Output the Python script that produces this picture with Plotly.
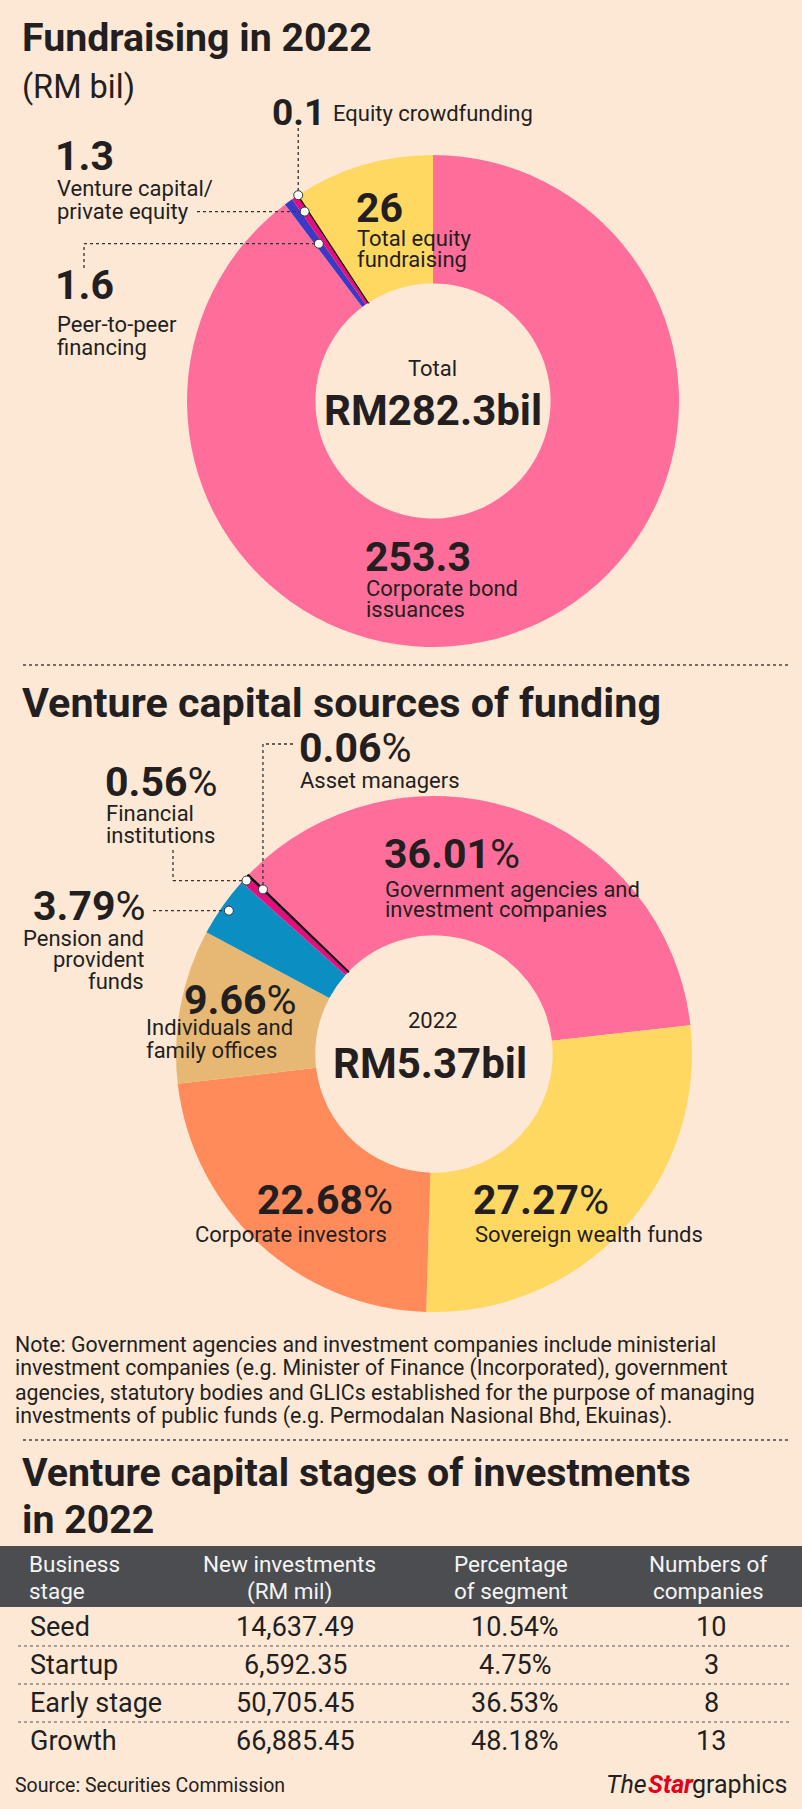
import math
import plotly.graph_objects as go

# ---------------- data ----------------
fund_labels = ["Corporate bond issuances", "Peer-to-peer financing",
               "Venture capital/private equity", "Equity crowdfunding",
               "Total equity fundraising"]
fund_values = [253.3, 1.6, 1.3, 0.1, 26]
fund_total_label = "RM282.3bil"

vc_labels = ["Government agencies and investment companies", "Sovereign wealth funds",
             "Corporate investors", "Individuals and family offices",
             "Pension and provident funds", "Financial institutions", "Asset managers"]
vc_values = [36.01, 27.27, 22.68, 9.66, 3.79, 0.56, 0.06]
vc_total_label = "RM5.37bil"
vc_year = "2022"

stage_names = ["Seed", "Startup", "Early stage", "Growth"]
stage_new_inv = [14637.49, 6592.35, 50705.45, 66885.45]
stage_pct = [10.54, 4.75, 36.53, 48.18]
stage_companies = [10, 3, 8, 13]
table_headers = ["Business<br>stage", "New investments<br>(RM mil)",
                 "Percentage<br>of segment", "Numbers of<br>companies"]

note_lines = [
    "Note: Government agencies and investment companies include ministerial",
    "investment companies (e.g. Minister of Finance (Incorporated), government",
    "agencies, statutory bodies and GLICs established for the purpose of managing",
    "investments of public funds (e.g. Permodalan Nasional Bhd, Ekuinas).",
]

# ---------------- style ----------------
W, H = 802, 1809
BG = "#FDE8D6"
INK = "#231F20"
PINK = "#FF6E9B"
YELLOW = "#FFD862"
BLUE1 = "#3A3AC4"
MAGENTA = "#E2107F"
BLUE2 = "#0B8EC1"
TAN = "#E6B874"
ORANGE = "#FF8B5B"
HEADER = "#4C4D51"
FONT = "Roboto"

fund_colors = [PINK, BLUE1, MAGENTA, "#111111", YELLOW]
vc_colors = [PINK, YELLOW, ORANGE, TAN, BLUE2, MAGENTA, "#111111"]


def fx(x):
    return x / W


def fy(y):
    return 1 - y / H


fig = go.Figure()

# donut geometry (pixels)
C1 = (433, 401, 246)
C2 = (434, 1054, 258)
ROT2 = -46


def add_donut(vals, cols, geom, hole, rot):
    cx, cy, R = geom
    widths = [1.6 if c == "#111111" else 0 for c in cols]
    fig.add_trace(go.Pie(
        values=vals, marker=dict(colors=cols, line=dict(color="#111111", width=widths)),
        hole=hole, sort=False, direction="clockwise", rotation=rot,
        textinfo="none", hoverinfo="skip", showlegend=False,
        domain=dict(x=[fx(cx - R), fx(cx + R)], y=[fy(cy + R), fy(cy - R)]),
    ))


add_donut(fund_values, fund_colors, C1, 0.478, 0)
add_donut(vc_values, vc_colors, C2, 0.46, ROT2)


def slice_point(vals, idx, geom, rot, rfrac):
    cx, cy, R = geom
    tot = sum(vals)
    mid = sum(vals[:idx]) + vals[idx] / 2
    th = math.radians(rot + 360 * mid / tot)
    return cx + R * rfrac * math.sin(th), cy - R * rfrac * math.cos(th)


def text(x, y, s, size, anchor="left", color=INK):
    fig.add_annotation(x=fx(x), y=fy(y), xref="paper", yref="paper", text=s,
                       showarrow=False, xanchor=anchor, yanchor="middle",
                       borderpad=0, font=dict(family=FONT, size=size, color=color))


def lines(x, y0, rows, size, step, anchor="left", color=INK):
    for i, r in enumerate(rows):
        text(x, y0 + i * step, r, size, anchor, color)


def dotted(pts):
    for (x0, y0), (x1, y1) in zip(pts[:-1], pts[1:]):
        fig.add_shape(type="line", xref="paper", yref="paper",
                      x0=fx(x0), y0=fy(y0), x1=fx(x1), y1=fy(y1),
                      line=dict(color="#333333", width=1.3, dash="dot"))


def dot(x, y, r=4.5):
    fig.add_shape(type="circle", xref="paper", yref="paper",
                  x0=fx(x - r), x1=fx(x + r), y0=fy(y + r), y1=fy(y - r),
                  fillcolor="white", line=dict(color="#333333", width=1))


def sep(y):
    fig.add_shape(type="line", xref="paper", yref="paper", x0=fx(23), x1=fx(788),
                  y0=fy(y), y1=fy(y), line=dict(color="#444444", width=1.6, dash="dot"))


NUM = 41
LAB = 22
TITLE = 39.3

# ---------------- section 1 ----------------
text(21, 38, "<b>Fundraising in 2022</b>", TITLE)
text(21, 87, "(RM bil)", 32.5)

# leader lines + dots
bx, by = slice_point(fund_values, 3, C1, 0, 1.0)
mx, my = slice_point(fund_values, 2, C1, 0, 0.93)
ux, uy = slice_point(fund_values, 1, C1, 0, 0.79)
dotted([(bx, 128), (bx, by)])
dotted([(197, my), (mx, my)])
dotted([(84, 268), (84, uy), (ux, uy)])
dot(bx, by); dot(mx, my); dot(ux, uy)

text(271, 112, f"<b>{fund_values[3]:g}</b>", 37)
text(332, 113, fund_labels[3], LAB)
text(54, 156, f"<b>{fund_values[2]:g}</b>", NUM)
lines(56, 189, ["Venture capital/", "private equity"], LAB, 22)
text(355, 208, f"<b>{fund_values[4]:g}</b>", NUM)
lines(356, 238, ["Total equity", "fundraising"], LAB, 21)
text(54, 285, f"<b>{fund_values[1]:g}</b>", NUM)
lines(56, 325, ["Peer-to-peer", "financing"], LAB, 22)
text(433, 369, "Total", 22, "center")
text(433, 411, f"<b>{fund_total_label}</b>", 42, "center")
text(364, 557, f"<b>{fund_values[0]:g}</b>", NUM)
lines(365, 588, ["Corporate bond", "issuances"], LAB, 21)

sep(665)

# ---------------- section 2 ----------------
text(21, 703, "<b>Venture capital sources of funding</b>", 41.3)


def pct(v):
    return f"<b>{v:.2f}</b>%"


ax_, ay_ = slice_point(vc_values, 6, C2, ROT2, 0.92)
fx_, fy_ = slice_point(vc_values, 5, C2, ROT2, 0.99)
px_, py_ = slice_point(vc_values, 4, C2, ROT2, 0.97)
dotted([(293, 744), (ax_, 744), (ax_, ay_)])
dotted([(173, 850), (173, fy_), (fx_, fy_)])
dotted([(153, py_), (px_, py_)])
dot(ax_, ay_); dot(fx_, fy_); dot(px_, py_)

text(298, 748, pct(vc_values[6]), NUM)
text(299, 780, vc_labels[6], LAB)
text(104, 782, pct(vc_values[5]), NUM)
lines(105, 814, ["Financial", "institutions"], LAB, 21)
text(147, 906, pct(vc_values[4]), NUM, "right")
lines(145, 938, ["Pension and", "provident", "funds"], LAB, 21.5, "right")
text(298, 1000, pct(vc_values[3]), NUM, "right")
lines(145, 1027, ["Individuals and", "family offices"], LAB, 23)
text(432, 1020, vc_year, 22, "center")
text(430, 1063, f"<b>{vc_total_label}</b>", 42, "center")
text(383, 854, pct(vc_values[0]), NUM)
lines(384, 889, ["Government agencies and", "investment companies"], LAB, 20)
text(394, 1200, pct(vc_values[2]), NUM, "right")
text(388, 1234, vc_labels[2], LAB, "right")
text(472, 1200, pct(vc_values[1]), NUM)
text(474, 1234, vc_labels[1], LAB)

lines(14, 1344, note_lines, 21.3, 24)

sep(1440)

# ---------------- section 3: table ----------------
text(21, 1473, "<b>Venture capital stages of investments</b>", TITLE)
text(21, 1520, "<b>in 2022</b>", TITLE)

fig.add_shape(type="rect", xref="paper", yref="paper", x0=0, x1=1,
              y0=fy(1607), y1=fy(1546), fillcolor=HEADER, line=dict(width=0))
hdr_x = [28, 289, 511, 708]
hdr_anchor = ["left", "center", "center", "center"]
for hx, ha, ht in zip(hdr_x, hdr_anchor, table_headers):
    lines(hx, 1564, ht.split("<br>"), 22.5, 27, ha, "#F4F4F4")

row_y = [1627, 1665, 1703, 1741]
col_x = [29, 295, 515, 711]
ROW = 27
for i, ry in enumerate(row_y):
    text(col_x[0], ry, stage_names[i], ROW)
    text(col_x[1], ry, f"{stage_new_inv[i]:,.2f}", ROW, "center")
    text(col_x[2], ry, f"{stage_pct[i]:.2f}%", ROW, "center")
    text(col_x[3], ry, f"{stage_companies[i]}", ROW, "center")
for sy in [1646, 1684, 1722]:
    fig.add_shape(type="line", xref="paper", yref="paper", x0=fx(18), x1=fx(790),
                  y0=fy(sy), y1=fy(sy), line=dict(color="#555555", width=1.2, dash="dot"))

text(14, 1785, "Source: Securities Commission", 19.5)
# logo built from three pieces
text(648, 1784, "<i>The</i>", 25, "right")
text(647, 1784, "<b><i>Star</i></b>", 25, "left", "#E3001B")
text(691, 1784, "graphics", 25, "left")

fig.update_layout(width=W, height=H, margin=dict(l=0, r=0, t=0, b=0),
                  paper_bgcolor=BG, plot_bgcolor=BG,
                  font=dict(family=FONT, color=INK))
fig.write_html("out.html", config={"displayModeBar": False},
               post_script="document.body.style.margin='0';document.body.style.padding='0';"
                           "document.documentElement.style.background='" + BG + "';")
